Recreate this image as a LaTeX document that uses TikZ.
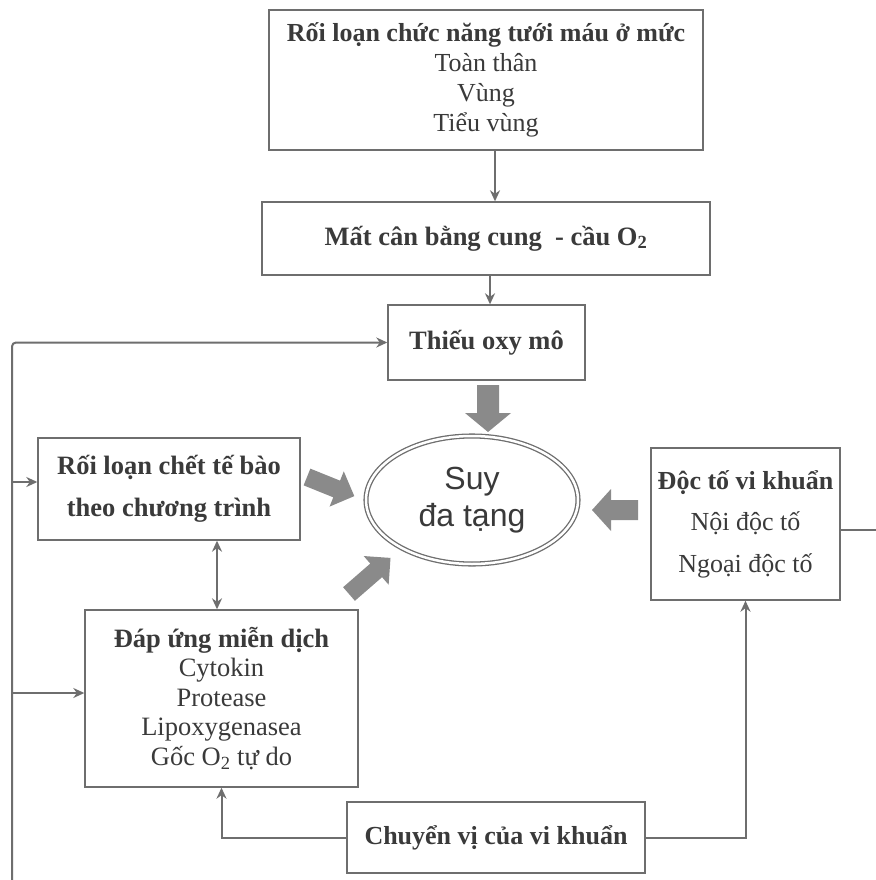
\documentclass[tikz,border=0pt]{standalone}
\usepackage{fontspec}
\setmainfont{Liberation Serif}
\newfontfamily\sansf{Liberation Sans}
\usetikzlibrary{arrows.meta,shapes.geometric}
\definecolor{txt}{HTML}{3A3A3A}
\definecolor{ln}{HTML}{6E6E6E}
\definecolor{bigfill}{HTML}{8A8A8A}
\newcommand\bigarr[5]{% tail x, tail y, canvas angle, length, shaft half width
  \fill[bigfill, shift={(#1,#2)}, rotate=#3]
    (0,-#5) -- (#4-19,-#5) -- (#4-19,-2*#5-1) -- (#4,0) -- (#4-19,2*#5+1) -- (#4-19,#5) -- (0,#5) -- cycle;}
\begin{document}
\begin{tikzpicture}[x=1pt,y=-1pt,
  box/.style={draw=ln, line width=1.4pt, text=txt, align=center, inner sep=0pt},
  conn/.style={draw=ln, line width=2pt, -{Stealth[length=11pt,width=10pt]}},
  plain/.style={draw=ln, line width=2pt},
  bf/.style={font=\bfseries\fontsize{26.5}{30}\selectfont}]
\useasboundingbox[fill=white] (0,0) rectangle (875,880);

% boxes
\node[box, font=\fontsize{26}{30}\selectfont, minimum width=434pt, minimum height=140pt] (top) at (486,80)
  {{\bfseries Rối loạn chức năng tưới máu ở mức}\\Toàn thân\\Vùng\\Tiểu vùng};
\node[box, bf, minimum width=448pt, minimum height=73pt] (mat) at (486,238.5)
  {Mất cân bằng cung\ \ - cầu O\textsubscript{2}};
\node[box, bf, minimum width=197pt, minimum height=75pt] (thieu) at (486.5,342.5)
  {Thiếu oxy mô};
\node[box, font=\bfseries\fontsize{26.5}{42}\selectfont, minimum width=262pt, minimum height=102pt] (rl) at (169,489)
  {Rối loạn chết tế bào\\theo chương trình};
\node[box, font=\fontsize{26.5}{29.5}\selectfont, minimum width=273pt, minimum height=177pt] (dap) at (221.5,698.5)
  {{\bfseries Đáp ứng miễn dịch}\\Cytokin\\Protease\\Lipoxygenasea\\Gốc O\textsubscript{2} tự do};
\node[box, font=\fontsize{26}{41.5}\selectfont, minimum width=189pt, minimum height=152pt] (doc) at (745.5,524)
  {{\bfseries Độc tố vi khuẩn}\\Nội độc tố\\Ngoại độc tố};
\node[box, font=\bfseries\fontsize{26}{30}\selectfont, minimum width=298pt, minimum height=71pt] (chuyen) at (496,837.5)
  {Chuyển vị của vi khuẩn};
\node[ellipse, draw=ln, double=white, double distance=2.5pt, line width=1.3pt,
  minimum width=212pt, minimum height=128pt, text=txt, align=center,
  font=\sansf\fontsize{32}{37}\selectfont] (suy) at (472,500) {Suy\\đa tạng};

% thin connectors
\draw[conn] ([xshift=9pt]top.south) -- ([xshift=9pt]top.south |- mat.north);
\draw[conn] ([xshift=4pt]mat.south) -- ([xshift=4pt]mat.south |- thieu.north);
\coordinate (bl) at (12,882);
\draw[conn, rounded corners=4pt] (bl) |- (thieu.west);
\coordinate (j1) at (12,482);
\draw[conn] (j1) -- (j1 -| rl.west);
\coordinate (j2) at (12,693);
\draw[conn] (j2) -- (j2 -| dap.west);
\draw[conn, {Stealth[length=11pt,width=10pt]}-{Stealth[length=11pt,width=10pt]}]
  ([xshift=48pt]rl.south) -- ([xshift=48pt]rl.south |- dap.north);
\draw[conn] (chuyen.west) -| (dap.south);
\draw[conn] (chuyen.east) -| (doc.south);
\coordinate (re) at (876,530);
\draw[plain] (doc.east |- re) -- (re);

% big arrows
\bigarr{488}{385}{-90}{47}{11}
\bigarr{307}{477}{-22}{51}{9}
\bigarr{349}{594}{41}{55}{9}
\bigarr{638}{510}{180}{46}{10}
\end{tikzpicture}
\end{document}
